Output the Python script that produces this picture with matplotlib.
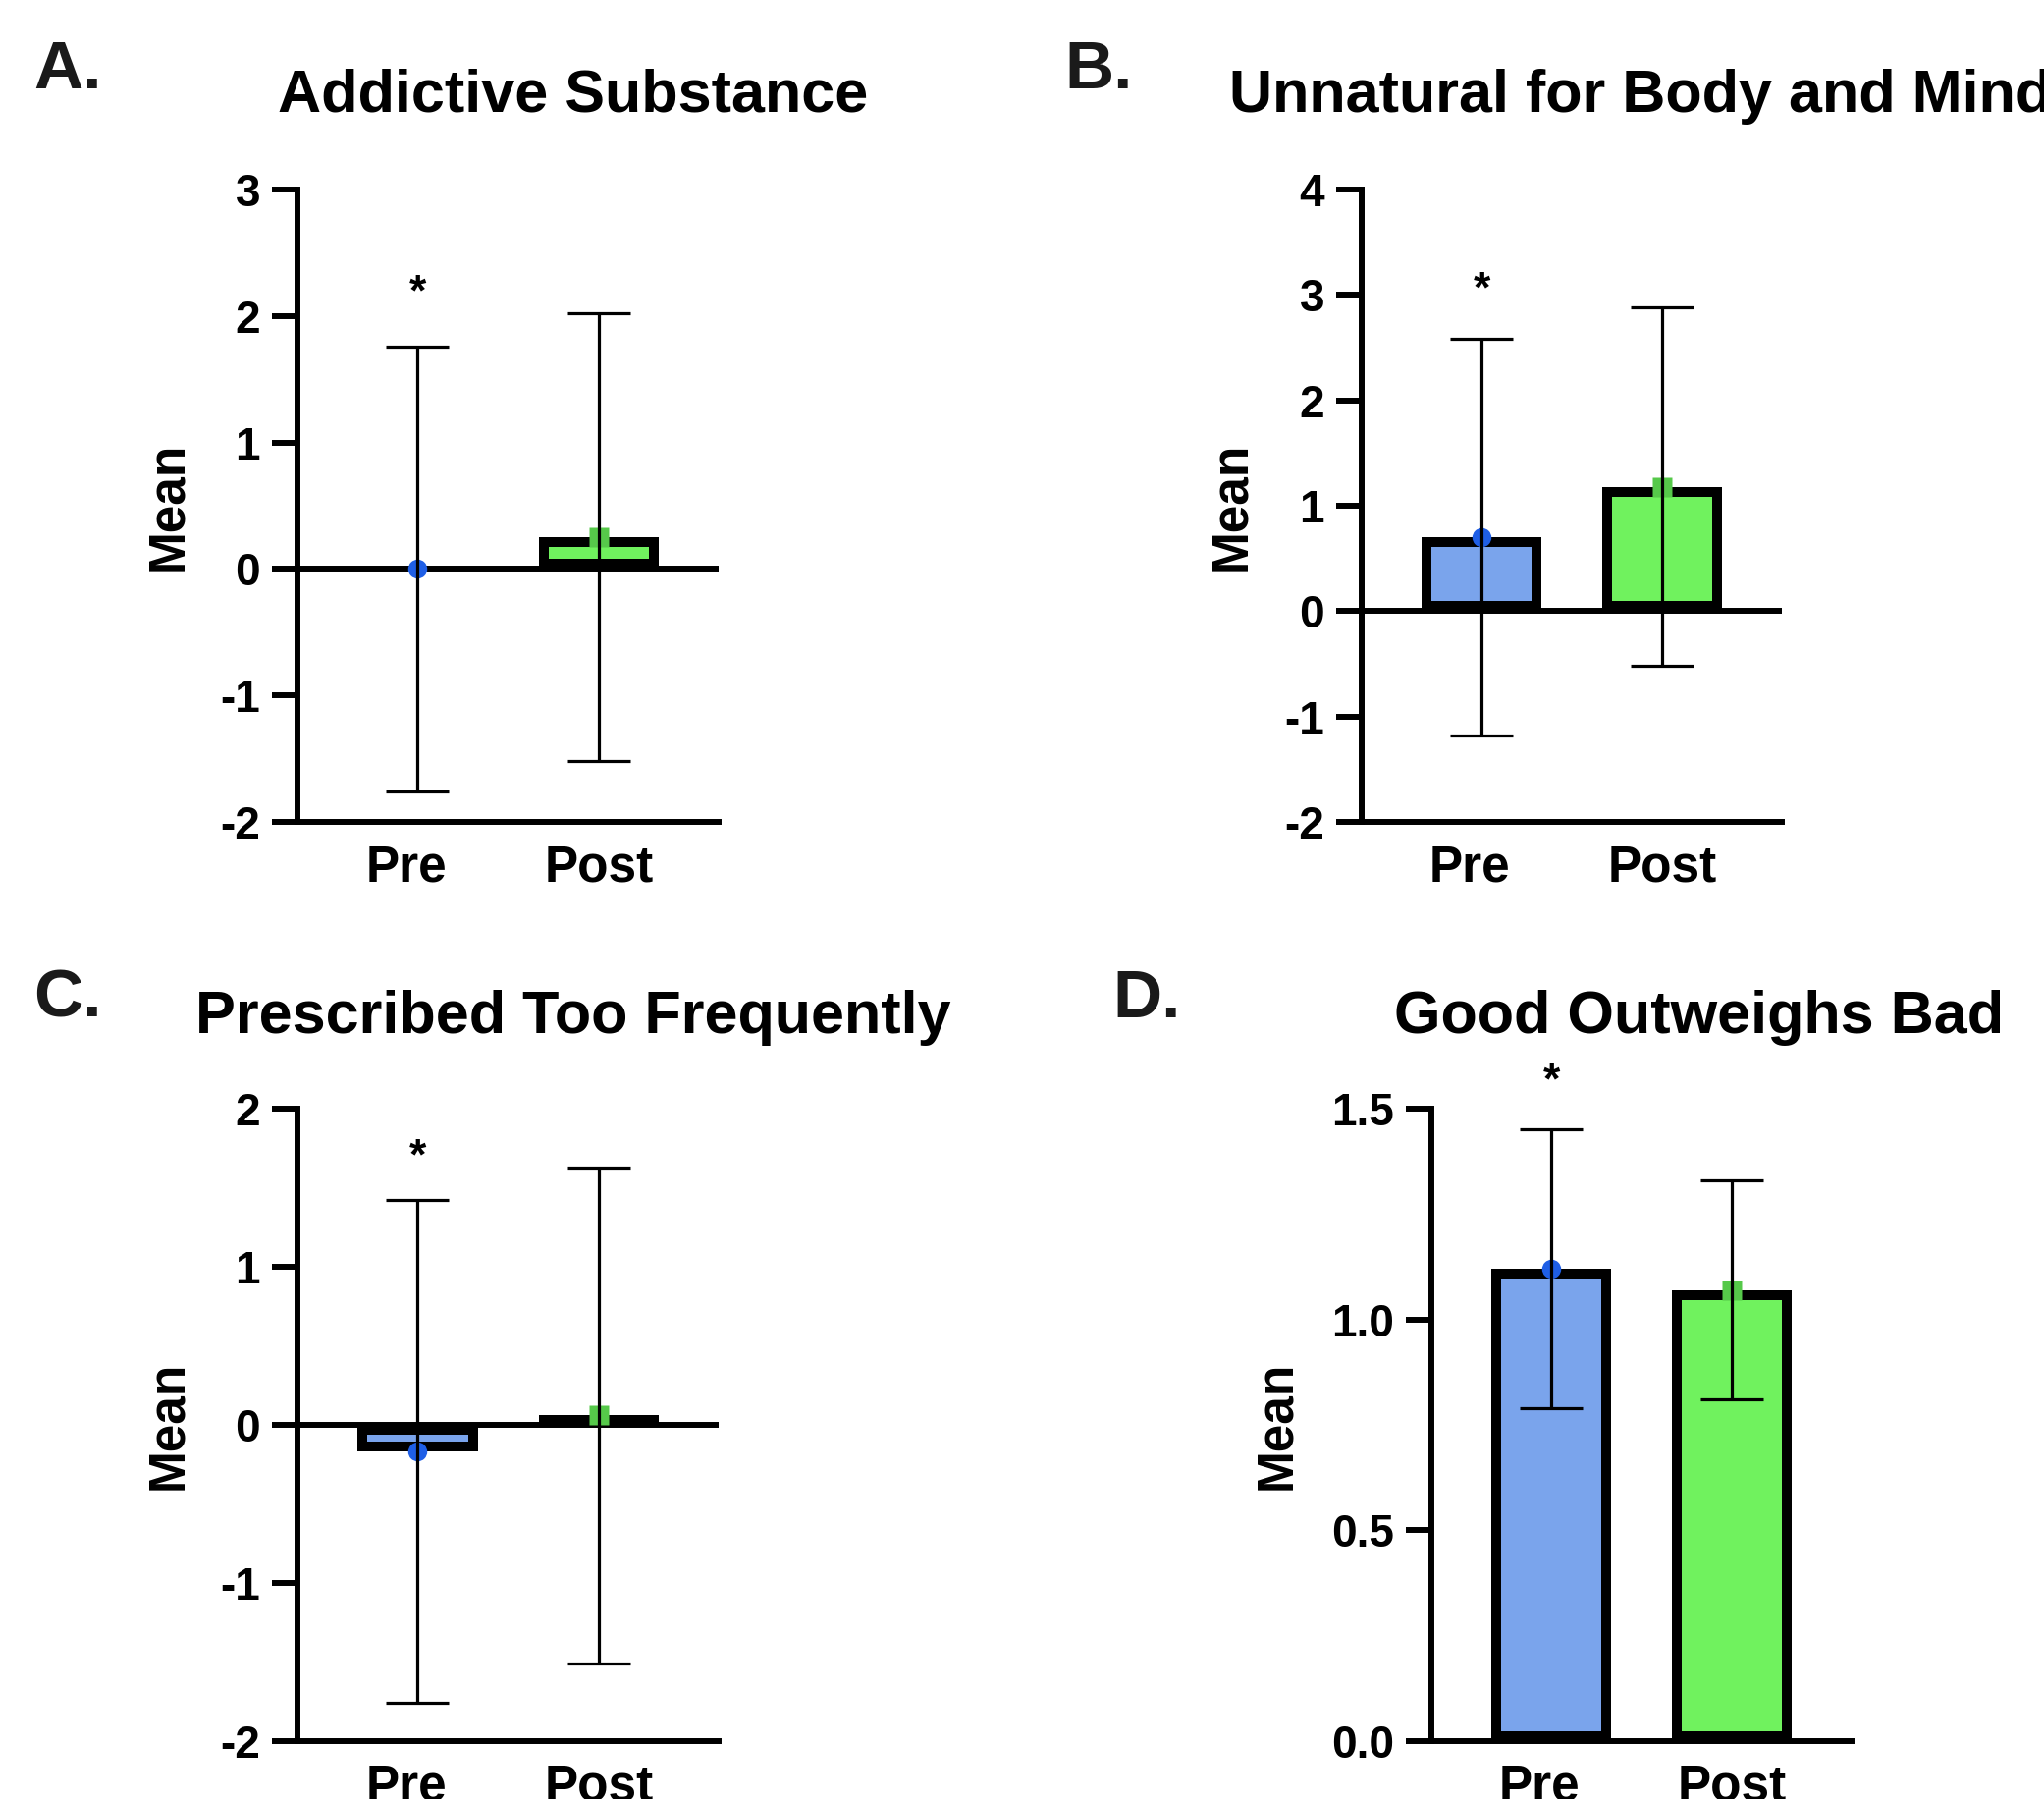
import numpy as np
import matplotlib.pyplot as plt
from matplotlib.transforms import ScaledTranslation

plt.rcParams['font.family'] = ['Liberation Sans', 'DejaVu Sans']
plt.rcParams['font.weight'] = 'bold'
plt.rcParams['axes.unicode_minus'] = False

groups = ['Pre', 'Post']
titles = ['Addictive Substance', 'Unnatural for Body and Mind',
          'Prescribed Too Frequently', 'Good Outweighs Bad']
letters = ['A.', 'B.', 'C.', 'D.']

addictive_mean = [0.00, 0.25]
addictive_sd = [1.76, 1.77]
unnatural_mean = [0.70, 1.18]
unnatural_sd = [1.88, 1.70]
prescribed_mean = [-0.17, 0.06]
prescribed_sd = [1.59, 1.57]
good_mean = [1.12, 1.07]
good_sd = [0.33, 0.26]

y_limits = [(-2, 3), (-2, 4), (-2, 2), (0, 1.5)]
y_ticks = [[-2, -1, 0, 1, 2, 3], [-2, -1, 0, 1, 2, 3, 4],
           [-2, -1, 0, 1, 2], [0, 0.5, 1.0, 1.5]]
star_y = [2.22, 3.09, 1.72, 1.575]

bar_colors = ['#7aa4ec', '#70f25e']
marker_colors = ['#1f5fe6', '#56c94a']

W, H = 2082, 1832
fig = plt.figure(figsize=(W / 100, H / 100), dpi=100)

# axes boxes in pixels: left, top, right, bottom
boxes = [(303, 193, 732, 837), (1387, 193, 1815, 837),
         (303, 1129, 732, 1773), (1458, 1129, 1886, 1773)]
title_pos = [(584, 114, 'center'), (1252, 114, 'left'),
             (584, 1052, 'center'), (1731, 1052, 'center')]
letter_pos = [(34, 90), (1084, 90), (34, 1036), (1133, 1036)]
ylabel_x = [-0.25, -0.253, -0.25, -0.311]

means = [addictive_mean, unnatural_mean, prescribed_mean, good_mean]
sds = [addictive_sd, unnatural_sd, prescribed_sd, good_sd]

x = np.arange(len(groups))
for i in range(4):
    l, t, r, b = boxes[i]
    ax = fig.add_axes([l / W, 1 - b / H, (r - l) / W, (b - t) / H])

    bars = ax.bar(x, means[i], width=0.663, color=bar_colors,
                  edgecolor='black', linewidth=14.4, zorder=3)
    for p in bars:
        p.set_clip_path(p)  # keep the border inside the bar

    if y_limits[i][0] < 0:
        ax.axhline(0, color='black', lw=4.3, zorder=2.6)

    for j in range(len(groups)):
        ax.plot(x[j], means[i][j], 'o' if j == 0 else 's', color=marker_colors[j],
                ms=14, mec='none', zorder=4, clip_on=False)
    ax.errorbar(x, means[i], yerr=sds[i], fmt='none', ecolor='black',
                elinewidth=2.3, capsize=22.7, capthick=2.3, zorder=5, clip_on=False)

    ax.annotate('*', xy=(0, star_y[i]), xytext=(0, -12),
                textcoords='offset points', ha='center', va='baseline',
                fontsize=32, fontweight='bold', annotation_clip=False)

    ax.set_xlim(-0.663, 1.66)
    ax.set_ylim(*y_limits[i])
    ax.set_yticks(y_ticks[i])
    if i == 3:
        ax.set_yticklabels(['%.1f' % v for v in y_ticks[i]])
    ax.set_xticks(x)
    ax.set_xticklabels(groups)

    for s in ['top', 'right']:
        ax.spines[s].set_visible(False)
    for s in ['left', 'bottom']:
        ax.spines[s].set_linewidth(4.3)

    ax.tick_params(axis='y', length=18.7, width=4.3, pad=8.6, labelsize=33)
    ax.tick_params(axis='x', length=0, pad=16, labelsize=37)

    # "Pre" sits a little left of its bar in the original
    pre = ax.xaxis.get_major_ticks()[0].label1
    pre.set_transform(pre.get_transform() + ScaledTranslation(-0.12, 0, fig.dpi_scale_trans))

    ax.set_ylabel('Mean', fontsize=37, fontweight='bold')
    ax.yaxis.set_label_coords(ylabel_x[i], 0.5)

    tx, ty, ha = title_pos[i]
    fig.text(tx / W, 1 - ty / H, titles[i], ha=ha, va='baseline',
             fontsize=44, fontweight='bold')
    lx, ly = letter_pos[i]
    fig.text(lx / W, 1 - ly / H, letters[i], ha='left', va='baseline',
             fontsize=50, fontweight='bold', color='#1a1a1a')

fig.savefig('out.png', dpi=100)
